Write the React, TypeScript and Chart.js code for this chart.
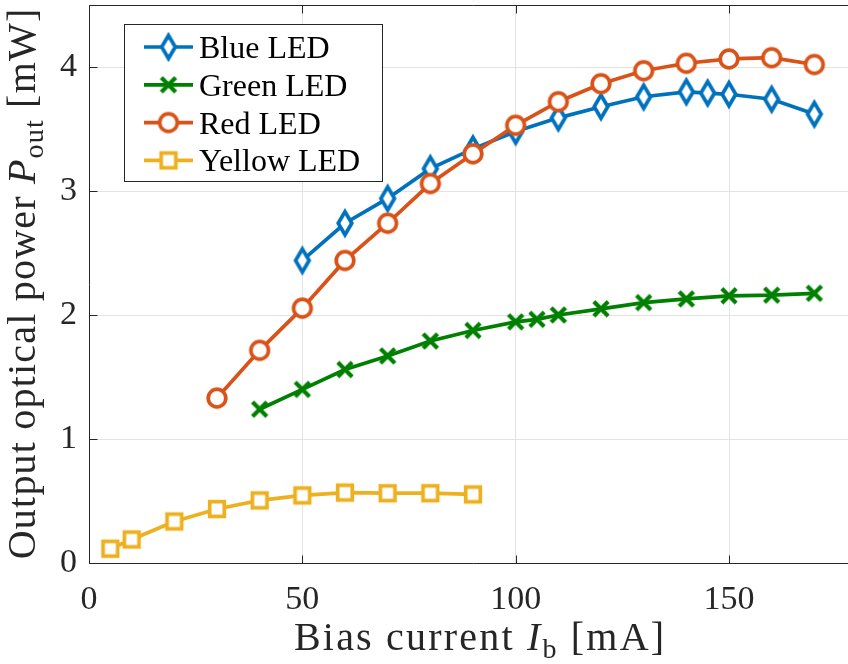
import React, { useEffect, useRef } from 'react';
import { Chart, registerables } from 'chart.js';

Chart.register(...registerables);

// ---------- data ----------
const SERIES_NAMES = ['Blue LED', 'Green LED', 'Red LED', 'Yellow LED'];
const SERIES_COLORS = ['#0072BD', '#008000', '#D95319', '#EDB120'];
const SERIES_MARKERS = ['diamond', 'cross', 'circle', 'square'];

const BLUE_X = [50, 60, 70, 80, 90, 100, 110, 120, 130, 140, 145, 150, 160, 170];
const BLUE_Y = [2.44, 2.74, 2.94, 3.18, 3.34, 3.48, 3.59, 3.68, 3.76, 3.8, 3.79, 3.78, 3.74, 3.62];

const GREEN_X = [40, 50, 60, 70, 80, 90, 100, 105, 110, 120, 130, 140, 150, 160, 170];
const GREEN_Y = [1.24, 1.4, 1.56, 1.67, 1.79, 1.875, 1.945, 1.965, 2.0, 2.05, 2.1, 2.13, 2.155, 2.16, 2.175];

const RED_X = [30, 40, 50, 60, 70, 80, 90, 100, 110, 120, 130, 140, 150, 160, 170];
const RED_Y = [1.33, 1.715, 2.055, 2.44, 2.74, 3.06, 3.3, 3.53, 3.72, 3.865, 3.97, 4.03, 4.065, 4.075, 4.02];

const YELLOW_X = [5, 10, 20, 30, 40, 50, 60, 70, 80, 90];
const YELLOW_Y = [0.115, 0.19, 0.335, 0.435, 0.505, 0.545, 0.568, 0.563, 0.563, 0.553];

const SERIES_X = [BLUE_X, GREEN_X, RED_X, YELLOW_X];
const SERIES_Y = [BLUE_Y, GREEN_Y, RED_Y, YELLOW_Y];

const X_MIN = 0;
const X_MAX = 180;
const Y_MIN = 0;
const Y_MAX = 4.5;
const X_TICKS = [0, 50, 100, 150];
const Y_TICKS = [0, 1, 2, 3, 4];

// axis titles: [text, style] parts (style: n = normal, i = italic, s = subscript)
const X_TITLE: [string, string][] = [['Bias current ', 'n'], ['I', 'i'], ['b', 's'], [' [mA]', 'n']];
const Y_TITLE: [string, string][] = [['Output optical power ', 'n'], ['P', 'i'], ['out', 's'], [' [mW]', 'n']];

// ---------- styles ----------
const FONT = '"Liberation Serif", "DejaVu Serif", serif';
const AXIS_COLOR = '#262626';
const GRID_COLOR = '#e3e3e3';
const LINE_W = 3.7;
const W = 880;
const H = 664;

function makeMarker(kind: string, color: string): HTMLCanvasElement {
  const c = document.createElement('canvas');
  let w = 26, h = 26;
  if (kind === 'diamond') { w = 26; h = 38; }
  if (kind === 'circle') { w = 28; h = 28; }
  c.width = w; c.height = h;
  const ctx = c.getContext('2d')!;
  const cx = w / 2, cy = h / 2;
  ctx.strokeStyle = color;
  ctx.fillStyle = '#ffffff';
  ctx.lineWidth = LINE_W;
  ctx.lineJoin = 'miter';
  ctx.beginPath();
  if (kind === 'diamond') {
    ctx.moveTo(cx, cy - 11.5);
    ctx.lineTo(cx + 6.8, cy);
    ctx.lineTo(cx, cy + 11.5);
    ctx.lineTo(cx - 6.8, cy);
    ctx.closePath();
    ctx.fill();
    ctx.stroke();
  } else if (kind === 'circle') {
    ctx.arc(cx, cy, 8.8, 0, Math.PI * 2);
    ctx.fill();
    ctx.stroke();
  } else if (kind === 'square') {
    ctx.rect(cx - 7.3, cy - 7.3, 14.6, 14.6);
    ctx.fill();
    ctx.stroke();
  } else {
    ctx.lineWidth = 4.2;
    ctx.moveTo(cx - 7.2, cy - 7.2);
    ctx.lineTo(cx + 7.2, cy + 7.2);
    ctx.moveTo(cx + 7.2, cy - 7.2);
    ctx.lineTo(cx - 7.2, cy + 7.2);
    ctx.stroke();
  }
  return c;
}

function drawRich(ctx: CanvasRenderingContext2D, parts: [string, string][], cx: number, baseline: number, size: number, ls: number) {
  const fontFor = (st: string) =>
    st === 'i' ? `italic ${size}px ${FONT}` : st === 's' ? `${Math.round(size * 0.7)}px ${FONT}` : `${size}px ${FONT}`;
  let total = 0;
  const chars: { ch: string; font: string; dy: number; w: number }[] = [];
  parts.forEach(([text, st]) => {
    const f = fontFor(st);
    ctx.font = f;
    for (const ch of text) {
      const w = ctx.measureText(ch).width;
      chars.push({ ch, font: f, dy: st === 's' ? size * 0.2 : 0, w });
    }
  });
  chars.forEach((c, i) => { total += c.w + (i < chars.length - 1 ? ls : 0); });
  let x = cx - total / 2;
  ctx.textAlign = 'left';
  ctx.textBaseline = 'alphabetic';
  chars.forEach((c) => {
    ctx.font = c.font;
    ctx.fillText(c.ch, x, baseline + c.dy);
    x += c.w + ls;
  });
}

const decorPlugin = {
  id: 'decor',
  afterDraw(chart: any) {
    const { ctx, chartArea: a, scales } = chart;
    const L = Math.round(a.left) + 0.5;
    const R = Math.round(a.right) + 0.5;
    const T = Math.round(a.top) + 0.5;
    const B = Math.round(a.bottom) + 0.5;
    ctx.save();
    ctx.strokeStyle = AXIS_COLOR;
    ctx.lineWidth = 1;
    ctx.beginPath();
    ctx.rect(L, T, R - L, B - T);
    X_TICKS.forEach((v) => {
      const px = Math.round(scales.x.getPixelForValue(v)) + 0.5;
      ctx.moveTo(px, B); ctx.lineTo(px, B - 8);
      ctx.moveTo(px, T); ctx.lineTo(px, T + 8);
    });
    Y_TICKS.forEach((v) => {
      const py = Math.round(scales.y.getPixelForValue(v)) + 0.5;
      ctx.moveTo(L, py); ctx.lineTo(L + 8, py);
      ctx.moveTo(R, py); ctx.lineTo(R - 8, py);
    });
    ctx.stroke();

    // axis titles
    ctx.fillStyle = AXIS_COLOR;
    drawRich(ctx, X_TITLE, (a.left + a.right) / 2 + 6, 650, 40, 2.2);
    ctx.save();
    ctx.translate(35, (a.top + a.bottom) / 2);
    ctx.rotate(-Math.PI / 2);
    drawRich(ctx, Y_TITLE, 0, 0, 40, 1.2);
    ctx.restore();

    // legend
    const lx = 124.5, ly = 24.5, lw = 258, lh = 157;
    ctx.fillStyle = '#ffffff';
    ctx.fillRect(lx, ly, lw, lh);
    ctx.strokeStyle = AXIS_COLOR;
    ctx.lineWidth = 1;
    ctx.strokeRect(lx, ly, lw, lh);
    chart.data.datasets.forEach((ds: any, i: number) => {
      const cy = 47 + i * 37.8;
      ctx.strokeStyle = ds.borderColor;
      ctx.lineWidth = LINE_W;
      ctx.beginPath();
      ctx.moveTo(144, cy);
      ctx.lineTo(193, cy);
      ctx.stroke();
      const img = ds.pointStyle as HTMLCanvasElement;
      ctx.drawImage(img, 168.5 - img.width / 2, cy - img.height / 2);
      ctx.fillStyle = '#000000';
      ctx.font = `32px ${FONT}`;
      ctx.textAlign = 'left';
      ctx.textBaseline = 'alphabetic';
      ctx.fillText(ds.label, 199, cy + 11);
    });
    ctx.restore();
  },
};

export default function App() {
  const ref = useRef<HTMLCanvasElement | null>(null);
  useEffect(() => {
    let chart: any = null;
    let cancelled = false;
    const build = () => {
      if (cancelled || !ref.current) return;
      const datasets = SERIES_NAMES.map((name, i) => ({
        label: name,
        data: SERIES_X[i].map((x, j) => ({ x, y: SERIES_Y[i][j] })),
        borderColor: SERIES_COLORS[i],
        backgroundColor: SERIES_COLORS[i],
        borderWidth: LINE_W,
        pointStyle: makeMarker(SERIES_MARKERS[i], SERIES_COLORS[i]),
        pointRadius: 8,
        pointHoverRadius: 8,
        tension: 0,
        fill: false,
        clip: false,
        order: SERIES_NAMES.length - i,
      }));
      chart = new Chart(ref.current, {
        type: 'line',
        data: { datasets },
        options: {
          animation: false,
          responsive: false,
          events: [],
          layout: { autoPadding: false, padding: { top: 5, right: 23, left: 0, bottom: 0 } },
          plugins: { legend: { display: false }, tooltip: { enabled: false }, title: { display: false } },
          scales: {
            x: {
              type: 'linear',
              min: X_MIN,
              max: X_MAX,
              afterBuildTicks: (s: any) => { s.ticks = X_TICKS.map((v) => ({ value: v })); },
              afterFit: (s: any) => { s.height = 101; s.paddingLeft = 0; s.paddingRight = 0; s.paddingTop = 0; s.paddingBottom = 0; },
              grid: { color: GRID_COLOR, lineWidth: 1, drawTicks: false },
              border: { display: false },
              ticks: { color: AXIS_COLOR, font: { family: FONT, size: 34 }, padding: 17, maxRotation: 0, autoSkip: false },
            },
            y: {
              type: 'linear',
              min: Y_MIN,
              max: Y_MAX,
              afterBuildTicks: (s: any) => { s.ticks = Y_TICKS.map((v) => ({ value: v })); },
              afterFit: (s: any) => { s.width = 89; s.paddingLeft = 0; s.paddingRight = 0; s.paddingTop = 0; s.paddingBottom = 0; },
              grid: { color: GRID_COLOR, lineWidth: 1, drawTicks: false },
              border: { display: false },
              ticks: { color: AXIS_COLOR, font: { family: FONT, size: 34 }, padding: 12, autoSkip: false },
            },
          },
        },
        plugins: [decorPlugin],
      });
    };
    const fonts = (document as any).fonts;
    if (fonts && fonts.load) {
      Promise.all([
        fonts.load(`34px "Liberation Serif"`),
        fonts.load(`italic 34px "Liberation Serif"`),
      ]).then(build, build);
    } else {
      build();
    }
    return () => { cancelled = true; if (chart) chart.destroy(); };
  }, []);
  return (
    <div style={{ position: 'fixed', left: 0, top: 0, width: 848, height: 664, overflow: 'hidden', background: '#fff' }}>
      <canvas ref={ref} width={W} height={H} style={{ display: 'block', width: W, height: H }} />
    </div>
  );
}
